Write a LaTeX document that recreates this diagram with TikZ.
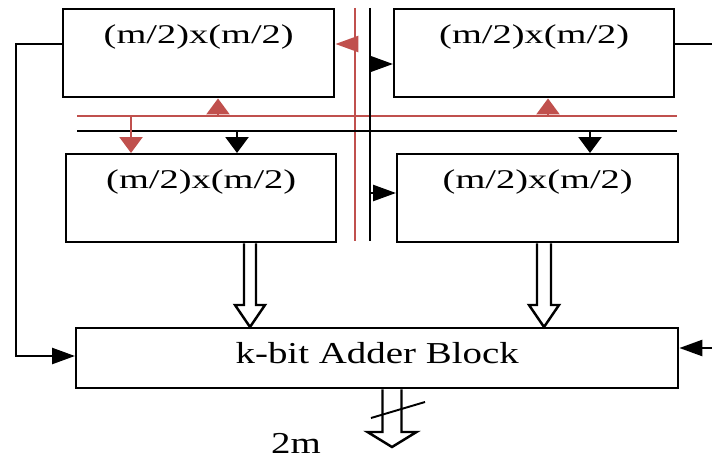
\documentclass[tikz,border=0pt]{standalone}
\usepackage{fontspec}
\usetikzlibrary{arrows.meta,calc}
\newfontfamily\cellfont[FakeStretch=1.42]{Liberation Serif}
\newfontfamily\sumfont[FakeStretch=1.28]{Liberation Serif}
\definecolor{BusRed}{RGB}{192,80,77}
\tikzset{
  cellbox/.style={draw,line width=1.4pt,inner sep=0pt,text height=0.68cm,text depth=1.08cm,anchor=north west,font={\cellfont\fontsize{15.4}{18}\selectfont}},
  adderbox/.style={draw,line width=1.4pt,inner sep=0pt,minimum width=12.04cm,text height=0.7cm,text depth=0.5cm,anchor=north west,font={\sumfont\fontsize{17.3}{20}\selectfont}},
  bus/.style={line width=1.4pt},
  redbus/.style={bus,draw=BusRed},
  harrow/.style={-{Triangle[length=0.46cm,width=0.32cm]},line width=1.4pt},
  varrow/.style={-{Triangle[length=0.32cm,width=0.46cm]},line width=1.4pt}
}
% hollow down arrow: top, tip, half shaft, half head, head length
\newcommand{\hollowdown}[5]{%
  \draw[line width=1.4pt] ($(#1)+(-#3,0)$) -- ($(#2)+(-#3,-#5)$) -- ($(#2)+(-#4,-#5)$) -- (#2)
    -- ($(#2)+(#4,-#5)$) -- ($(#2)+(#3,-#5)$) -- ($(#1)+(#3,0)$);}
\begin{document}
\begin{tikzpicture}[x=0.02cm,y=-0.02cm]
\useasboundingbox (0,0) rectangle (712,459);
% partial multipliers and adder
\node[cellbox,minimum width=5.42cm] (m11) at (62,8) {(m/2)x(m/2)};
\node[cellbox,minimum width=5.6cm] (m12) at (393,8) {(m/2)x(m/2)};
\node[cellbox,minimum width=5.4cm] (m21) at (65,153) {(m/2)x(m/2)};
\node[cellbox,minimum width=5.62cm] (m22) at (396,153) {(m/2)x(m/2)};
\node[adderbox] (add) at (75,327) {k-bit Adder Block};
% buses
\coordinate (rv1) at (355,8);  \coordinate (rv2) at (355,241);
\coordinate (bv1) at (370,8);  \coordinate (bv2) at (370,241);
\coordinate (rh1) at (77,116); \coordinate (rh2) at (677,116);
\coordinate (bh1) at (77,131); \coordinate (bh2) at (677,131);
\draw[redbus] (rv1) -- (rv2);
\draw[redbus] (rh1) -- (rh2);
\draw[bus] (bv1) -- (bv2);
\draw[bus] (bh1) -- (bh2);
% taps
\coordinate (rl) at (355,44);
\coordinate (br1) at (370,64);
\coordinate (br2) at (370,193);
\draw[harrow,BusRed] (rl) -- (rl -| m11.east);
\draw[harrow] (br1) -- (br1 -| m12.west);
\draw[harrow] (br2) -- (br2 -| m22.west);
\coordinate (ru1) at (218,116);
\coordinate (ru2) at (548,116);
\coordinate (rd1) at (131,116);
\coordinate (bd1) at (237,131);
\coordinate (bd2) at (590,131);
\draw[varrow,BusRed] (ru1) -- (ru1 |- m11.south);
\draw[varrow,BusRed] (ru2) -- (ru2 |- m12.south);
\draw[varrow,BusRed] (rd1) -- (rd1 |- m21.north);
\draw[varrow] (bd1) -- (bd1 |- m21.north);
\draw[varrow] (bd2) -- (bd2 |- m22.north);
% side lines
\coordinate (lp) at (16,356);
\coordinate (rout) at (712,44);
\coordinate (rin) at (712,348);
\draw[harrow] (m11.west |- rl) -| (lp) -- (lp -| add.west);
\draw[bus] (m12.east |- rl) -- (rout);
\draw[harrow] (rin) -- (rin -| add.east);
% wide outputs
\coordinate (s1) at (250,0);
\coordinate (s2) at (544,0);
\coordinate (s3) at (392,447);
\hollowdown{m21.south -| s1}{add.north -| s1}{6}{15}{22}
\hollowdown{m22.south -| s2}{add.north -| s2}{7}{15}{22}
\hollowdown{add.south -| s3}{s3}{9.5}{24.5}{15}
\draw[line width=1.1pt] (371,418) -- (425,402);
\node[font={\sumfont\fontsize{17.3}{20}\selectfont}] (width) at (296,443) {2m};
\end{tikzpicture}
\end{document}
